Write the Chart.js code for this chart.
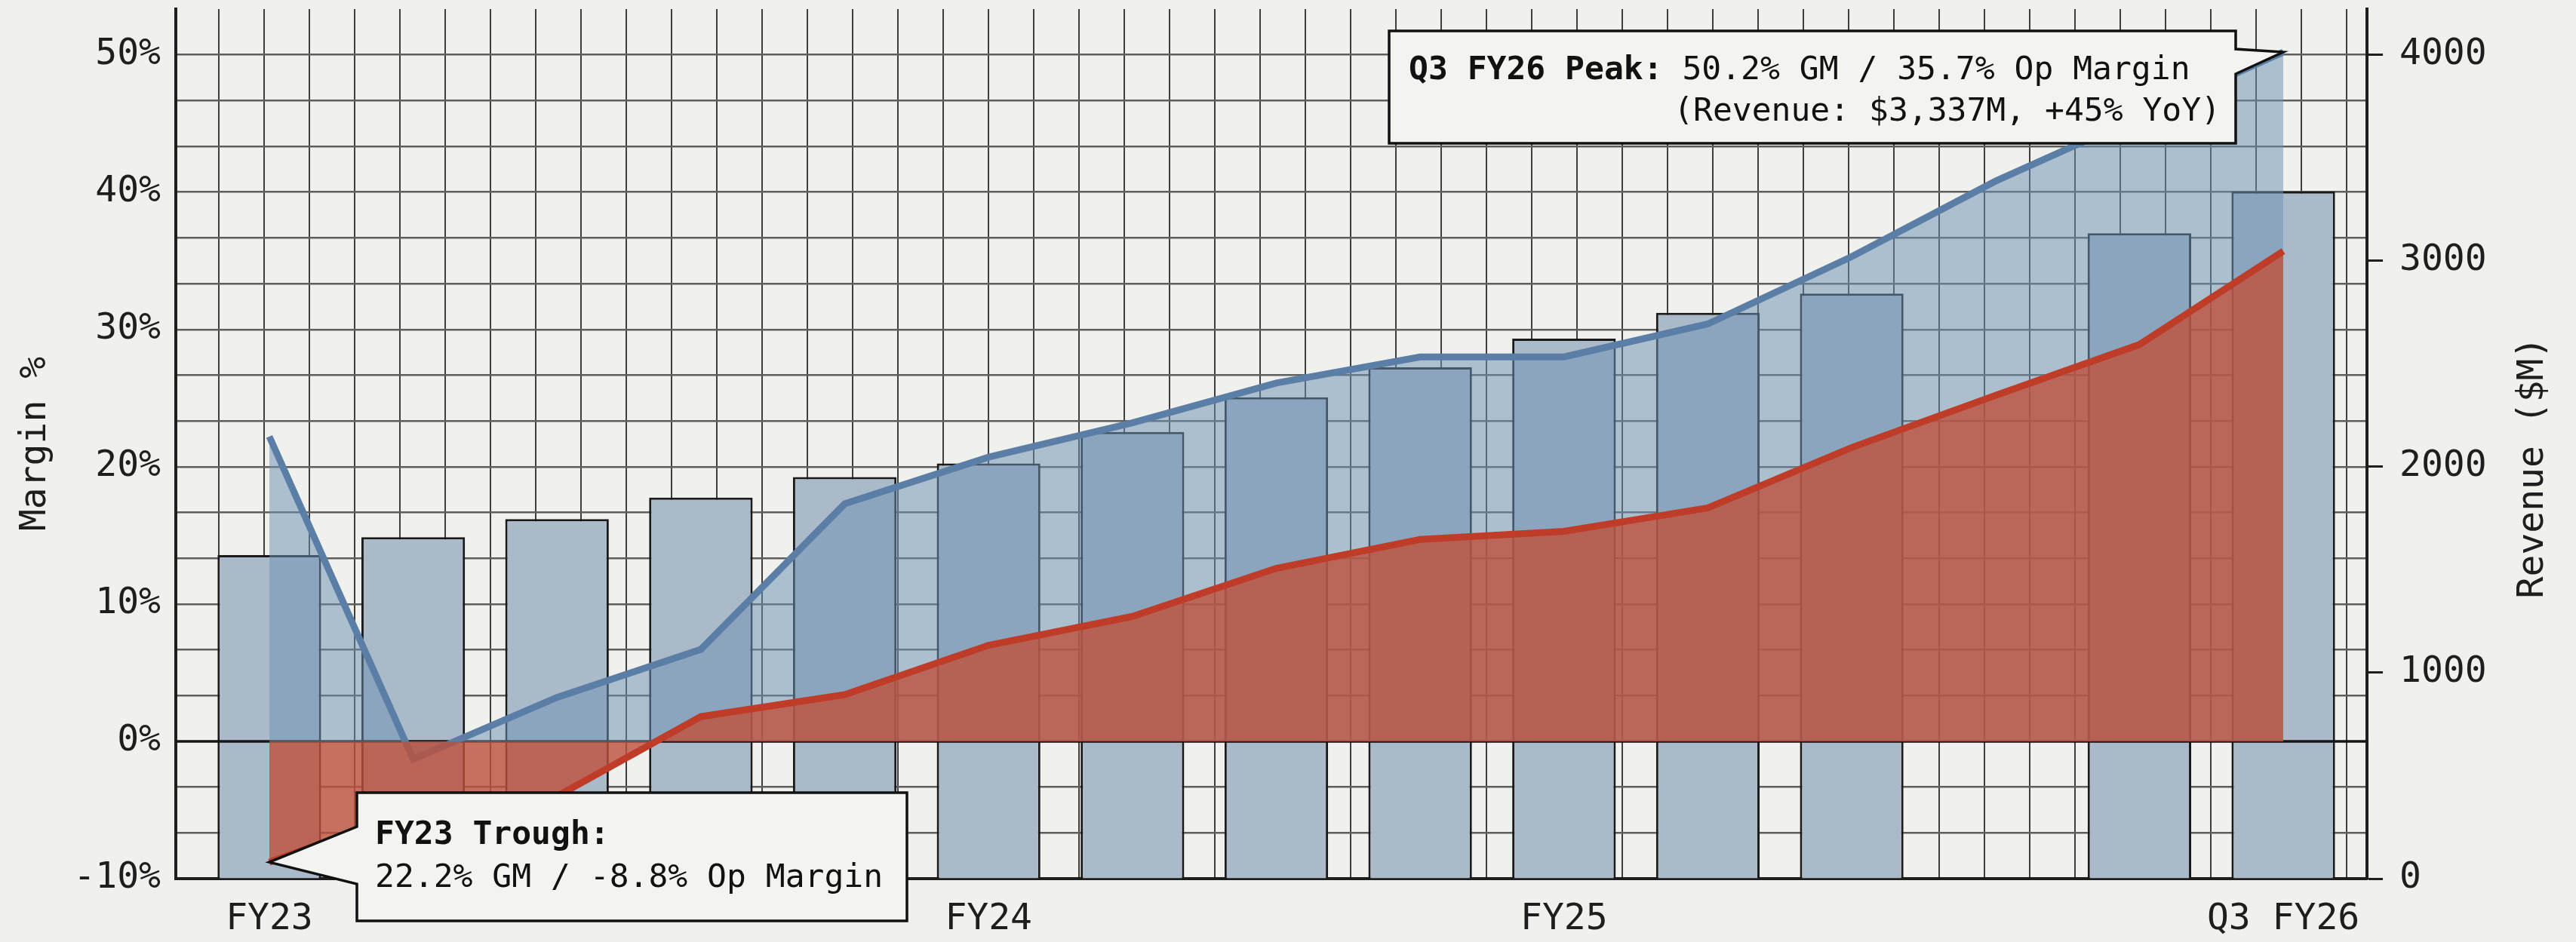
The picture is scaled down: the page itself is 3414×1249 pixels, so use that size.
<!DOCTYPE html>
<html>
<head>
<meta charset="utf-8">
<script src="https://cdn.jsdelivr.net/npm/chart.js@4.4.1/dist/chart.umd.min.js"></script>
<style>
  html, body { margin: 0; padding: 0; background: #f0f0ec; }
  canvas { display: block; }
</style>
</head>
<body>
<canvas id="chart" width="3414" height="1249"></canvas>
<script>
// Quarterly revenue and margin history, FY23 through Q3 FY26
const quarters = ['Q1 FY23', 'Q2 FY23', 'Q3 FY23', 'Q4 FY23',
                  'Q1 FY24', 'Q2 FY24', 'Q3 FY24', 'Q4 FY24',
                  'Q1 FY25', 'Q2 FY25', 'Q3 FY25', 'Q4 FY25',
                  'Q1 FY26', 'Q2 FY26', 'Q3 FY26'];
const tickLabels = ['FY23', '', '', '', '', 'FY24', '', '', '', 'FY25', '', '', '', '', 'Q3 FY26'];
const revenue = [1571, 1658, 1746, 1850, 1950, 2016, 2169, 2337, 2483, 2622, 2747, 2841, null, 3134, 3337];
const grossMargin = [22.2, -1.3, 3.2, 6.7, 17.3, 20.7, 23.2, 26.1, 28.0, 28.0, 30.4, 35.3, 40.8, 45.5, 50.2];
const opMargin = [-8.8, -5.0, -4.0, 1.8, 3.4, 7.0, 9.1, 12.6, 14.7, 15.3, 17.0, 21.4, 25.2, 28.9, 35.7];
const marginTicks = [-10, 0, 10, 20, 30, 40, 50];
const revenueTicks = [0, 1000, 2000, 3000, 4000];
const yoyGrowth = '+45%';

// Axis ranges: the revenue axis is tied to the margin axis so 0 sits at -10% and 4000 at 50%
const marginMin = -10, marginMax = 160 / 3;
const revenueTop = revenueTicks[revenueTicks.length - 1];
const revenueMax = revenueTop * (marginMax - marginMin) / (50 - marginMin);

const MONO = '"DejaVu Sans Mono", monospace';
const INK = '#1e1e1e';
Chart.defaults.font.family = MONO;
Chart.defaults.color = INK;

const fmt = v => v.toFixed(1);
const zeroPad = s => { s.paddingTop = 0; s.paddingBottom = 0; s.paddingLeft = 0; s.paddingRight = 0; };

function drawCallout(ctx, box, side, notchTop, notchBottom, tip) {
  ctx.save();
  ctx.beginPath();
  if (side === 'left') {
    ctx.moveTo(box.l, box.t);
    ctx.lineTo(box.r, box.t);
    ctx.lineTo(box.r, box.b);
    ctx.lineTo(box.l, box.b);
    ctx.lineTo(box.l, notchBottom);
    ctx.lineTo(tip.x, tip.y);
    ctx.lineTo(box.l, notchTop);
  } else {
    ctx.moveTo(box.l, box.t);
    ctx.lineTo(box.r, box.t);
    ctx.lineTo(box.r, notchTop);
    ctx.lineTo(tip.x, tip.y);
    ctx.lineTo(box.r, notchBottom);
    ctx.lineTo(box.r, box.b);
    ctx.lineTo(box.l, box.b);
  }
  ctx.closePath();
  ctx.fillStyle = '#f3f3ef';
  ctx.fill();
  ctx.lineWidth = 3.5;
  ctx.lineJoin = 'miter';
  ctx.strokeStyle = '#111111';
  ctx.stroke();
  ctx.restore();
}

const overlay = {
  id: 'overlay',
  afterDatasetDraw(chart, args) {
    // zero line sits above the revenue bars
    if (args.index !== 0) return;
    const { ctx, chartArea, scales } = chart;
    const y0 = scales.y.getPixelForValue(0);
    ctx.save();
    ctx.strokeStyle = '#161616';
    ctx.lineWidth = 3.5;
    ctx.beginPath();
    ctx.moveTo(chartArea.left, y0);
    ctx.lineTo(chartArea.right, y0);
    ctx.stroke();
    ctx.restore();
  },
  afterDraw(chart) {
    const { ctx, scales } = chart;
    const pt = (i, v) => ({ x: scales.x.getPixelForValue(i), y: scales.y.getPixelForValue(v) });
    const first = 0, last = quarters.length - 1;

    // FY23 trough callout
    drawCallout(ctx, { l: 473, t: 1051, r: 1202, b: 1221 }, 'left', 1096, 1172, pt(first, opMargin[first]));
    ctx.save();
    ctx.fillStyle = '#111111';
    ctx.textBaseline = 'middle';
    ctx.textAlign = 'left';
    ctx.font = 'bold 43px ' + MONO;
    ctx.fillText(tickLabels[first] + ' Trough:', 497, 1108);
    ctx.font = '43px ' + MONO;
    ctx.fillText(`${fmt(grossMargin[first])}% GM / ${fmt(opMargin[first])}% Op Margin`, 497, 1165);

    // Q3 FY26 peak callout
    drawCallout(ctx, { l: 1841, t: 41, r: 2963, b: 190 }, 'right', 65, 98, pt(last, grossMargin[last]));
    ctx.fillStyle = '#111111';
    ctx.font = 'bold 43px ' + MONO;
    const head = tickLabels[last] + ' Peak:';
    ctx.fillText(head, 1867, 94);
    const hw = ctx.measureText(head).width;
    ctx.font = '43px ' + MONO;
    ctx.fillText(` ${fmt(grossMargin[last])}% GM / ${fmt(opMargin[last])}% Op Margin`, 1867 + hw, 94);
    ctx.textAlign = 'right';
    ctx.fillText(`(Revenue: $${revenue[last].toLocaleString('en-US')}M, ${yoyGrowth} YoY)`, 2943, 149);

    // right axis title, reading bottom to top
    ctx.translate(3358, 620);
    ctx.rotate(-Math.PI / 2);
    ctx.textAlign = 'center';
    ctx.fillStyle = INK;
    ctx.font = '48px ' + MONO;
    ctx.fillText('Revenue ($M)', 0, 0);
    ctx.restore();
  }
};

const xy = arr => arr.map((v, i) => ({ x: i, y: v }));

new Chart(document.getElementById('chart'), {
  type: 'bar',
  data: {
    datasets: [
      {
        type: 'bar',
        label: 'Revenue ($M)',
        data: xy(revenue),
        xAxisID: 'x',
        yAxisID: 'y2',
        backgroundColor: '#abbac8',
        borderColor: '#1a1a1a',
        borderWidth: 3,
        categoryPercentage: 1,
        barPercentage: 0.72,
        order: 3
      },
      {
        type: 'line',
        label: 'Gross Margin %',
        data: xy(grossMargin),
        xAxisID: 'x',
        yAxisID: 'y',
        borderColor: '#5a7ea6',
        backgroundColor: 'rgba(110, 145, 180, 0.52)',
        borderWidth: 9,
        pointRadius: 0,
        tension: 0,
        fill: 'origin',
        order: 2
      },
      {
        type: 'line',
        label: 'Operating Margin %',
        data: xy(opMargin),
        xAxisID: 'x',
        yAxisID: 'y',
        borderColor: '#bf3d28',
        backgroundColor: 'rgba(190, 80, 60, 0.8)',
        borderWidth: 9,
        pointRadius: 0,
        tension: 0,
        fill: 'origin',
        order: 1
      }
    ]
  },
  options: {
    responsive: false,
    devicePixelRatio: 1,
    animation: false,
    events: [],
    layout: { padding: { top: 12, left: 0, right: 0, bottom: 0 } },
    plugins: { legend: { display: false }, tooltip: { enabled: false } },
    scales: {
      x: {
        type: 'linear',
        position: 'bottom',
        min: -0.65,
        max: 14.582,
        offset: false,
        afterBuildTicks: s => { s.ticks = quarters.map((_, i) => ({ value: i })); },
        afterFit: s => { s.height = 84; zeroPad(s); },
        grid: { display: false, drawTicks: false, offset: false },
        border: { display: true, color: INK, width: 4 },
        ticks: {
          autoSkip: false, maxRotation: 0, minRotation: 0, padding: 26,
          color: INK, font: { size: 48 },
          callback: v => tickLabels[v] ?? ''
        }
      },
      gx: {
        type: 'linear',
        position: 'top',
        min: -0.93,
        max: 46.44,
        afterBuildTicks: s => { s.ticks = Array.from({ length: 47 }, (_, k) => ({ value: k })); },
        afterFit: s => { s.height = 0; zeroPad(s); },
        ticks: { display: false, autoSkip: false },
        grid: { drawTicks: false, color: '#3e3e3e', lineWidth: 2 },
        border: { display: false }
      },
      y: {
        type: 'linear',
        position: 'left',
        min: marginMin,
        max: marginMax,
        afterFit: s => { s.width = 233; zeroPad(s); },
        ticks: {
          stepSize: 10 / 3, autoSkip: false, padding: 20, color: INK, font: { size: 48 },
          callback: v => {
            const r = Math.round(v);
            return Math.abs(v - r) < 1e-6 && marginTicks.includes(r) ? r + '%' : '';
          }
        },
        grid: {
          drawTicks: false,
          lineWidth: 2.5,
          color: c => {
            const v = c.tick ? c.tick.value : 0;
            if (Math.abs(v) < 1e-6 || v > marginMax - 1e-6) return 'rgba(0,0,0,0)';
            return '#5e5e5e';
          }
        },
        border: { display: true, color: INK, width: 4 },
        title: { display: true, text: 'Margin %', color: INK, font: { size: 48 }, padding: { top: 19, bottom: 0 } }
      },
      y2: {
        type: 'linear',
        position: 'right',
        min: 0,
        max: revenueMax,
        afterBuildTicks: s => { s.ticks = revenueTicks.map(v => ({ value: v })); },
        afterFit: s => { s.width = 277; zeroPad(s); },
        ticks: { autoSkip: false, padding: 22, color: INK, font: { size: 48 }, callback: v => String(v) },
        grid: { drawOnChartArea: false, drawTicks: true, tickLength: 21, tickWidth: 3, tickColor: INK },
        border: { display: true, color: INK, width: 4 }
      }
    }
  },
  plugins: [overlay]
});
</script>
</body>
</html>
